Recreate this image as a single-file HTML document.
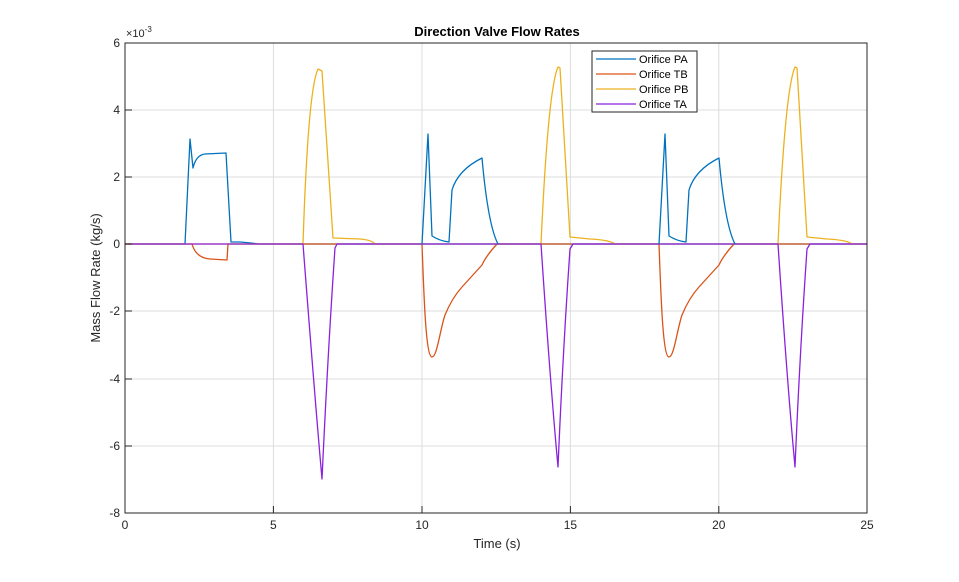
<!DOCTYPE html><html><head><style>body{margin:0;background:#fff}svg{font-family:"Liberation Sans",sans-serif}</style></head><body>
<svg width="959" height="577" viewBox="0 0 959 577">
<rect width="959" height="577" fill="#fff"/>
<g stroke="#dcdcdc" stroke-width="1">
<line x1="273.4" y1="43" x2="273.4" y2="513"/><line x1="422" y1="43" x2="422" y2="513"/><line x1="570.4" y1="43" x2="570.4" y2="513"/><line x1="718.8" y1="43" x2="718.8" y2="513"/>
<line x1="125" y1="110" x2="867" y2="110"/><line x1="125" y1="177" x2="867" y2="177"/><line x1="125" y1="244" x2="867" y2="244"/><line x1="125" y1="311" x2="867" y2="311"/><line x1="125" y1="379" x2="867" y2="379"/><line x1="125" y1="446" x2="867" y2="446"/>
</g>
<g fill="none" stroke-width="1.3" stroke-linejoin="round">
<path stroke="#0072BD" d="M125,244H185L190,139L193,168Q196,155 205,154L226,153L231,242L240,242Q252,243 258,244H867"/>
<path stroke="#D95319" d="M125,244H192Q196,258 210,259L227,260L228,244H422C424,300 426,357 432,357C437,357 440,330 445,315Q452,298 462,287Q472,276 482,265Q486,256 497,244H659C661,300 663,357 669,357C674,357 677,330 682,315Q689,298 699,287Q709,276 719,265Q723,256 734,244H867"/>
<path stroke="#EDB120" d="M125,244H303Q308,90 318,69L322,71L333,238L360,239Q372,240 375,244H541Q548,90 558,67L560,68L570,237L590,239Q610,240 615,244H778Q785,90 795,67L797,68L807,237L827,239Q847,240 852,244H867"/>
<path stroke="#8a22dd" d="M125,244H303Q315,400 322,479Q328,350 335,248L337,244H541Q550,380 558,467Q563,350 570,249L573,244H778Q787,380 795,467Q800,350 807,249L810,244H867"/>
<path stroke="#0072BD" d="M422,244L428,134L432,236Q440,241 449,242L452,190Q458,170 482,158Q488,225 498,244M659,244L665,134L669,236Q677,241 686,242L689,190Q695,170 719,158Q725,225 735,244"/>
</g>
<rect x="125" y="43" width="742" height="470" fill="none" stroke="#262626" stroke-width="1"/>
<g stroke="#262626"><line x1="273.4" y1="513" x2="273.4" y2="506"/><line x1="422" y1="513" x2="422" y2="506"/><line x1="570.4" y1="513" x2="570.4" y2="506"/><line x1="718.8" y1="513" x2="718.8" y2="506"/>
<line x1="125" y1="110" x2="132" y2="110"/><line x1="125" y1="177" x2="132" y2="177"/><line x1="125" y1="244" x2="132" y2="244"/><line x1="125" y1="311" x2="132" y2="311"/><line x1="125" y1="379" x2="132" y2="379"/><line x1="125" y1="446" x2="132" y2="446"/></g>
<g font-size="12" fill="#262626" text-anchor="middle">
<text x="125" y="529">0</text><text x="273.4" y="529">5</text><text x="422" y="529">10</text><text x="570.4" y="529">15</text><text x="718.8" y="529">20</text><text x="867" y="529">25</text>
</g>
<g font-size="12" fill="#262626" text-anchor="end">
<text x="120" y="47">6</text><text x="120" y="114">4</text><text x="120" y="181">2</text><text x="120" y="248">0</text><text x="120" y="315">-2</text><text x="120" y="383">-4</text><text x="120" y="450">-6</text><text x="120" y="517">-8</text>
</g>
<text x="126" y="37" font-size="11" fill="#262626">×10<tspan font-size="8" dy="-5">-3</tspan></text>
<text x="497" y="548" font-size="13" fill="#262626" text-anchor="middle">Time (s)</text>
<text transform="translate(100,278) rotate(-90)" font-size="13" fill="#262626" text-anchor="middle">Mass Flow Rate (kg/s)</text>
<text x="497" y="36" font-size="13" font-weight="bold" fill="#000" text-anchor="middle">Direction Valve Flow Rates</text>
<rect x="592" y="51" width="105" height="61" fill="#fff" stroke="#262626"/>
<g font-size="11" fill="#000">
<line x1="596" y1="59" x2="636" y2="59" stroke="#0072BD" stroke-width="1.3"/><text x="639" y="63">Orifice PA</text>
<line x1="596" y1="74" x2="636" y2="74" stroke="#D95319" stroke-width="1.3"/><text x="639" y="78">Orifice TB</text>
<line x1="596" y1="89" x2="636" y2="89" stroke="#EDB120" stroke-width="1.3"/><text x="639" y="93">Orifice PB</text>
<line x1="596" y1="104" x2="636" y2="104" stroke="#8a22dd" stroke-width="1.3"/><text x="639" y="108">Orifice TA</text>
</g>
</svg></body></html>
